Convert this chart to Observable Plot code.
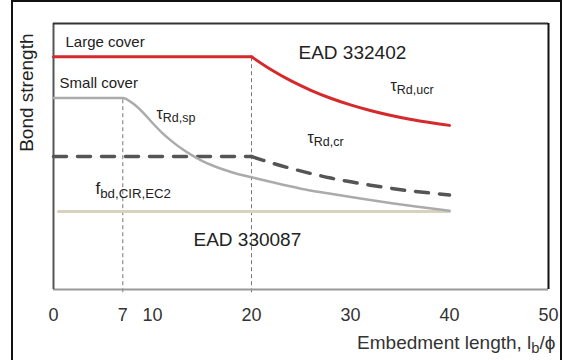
<!DOCTYPE html>
<html><head><meta charset="utf-8">
<script src="https://cdn.jsdelivr.net/npm/d3@7"></script>
<script src="https://cdn.jsdelivr.net/npm/@observablehq/plot@0.6"></script>
<style>
body{margin:0;background:#fff;}
#wrap{position:relative;width:565px;height:360px;overflow:hidden;font-family:"Liberation Sans",Arial,sans-serif;}
#border{position:absolute;left:11px;top:0;width:547px;height:400px;border:2px solid #111;pointer-events:none;}
</style></head><body><div id="wrap"></div>
<script>
// Data (x in lb/phi, y in arbitrary bond-strength units)
const largeFlatX = [0, 20];
const largeFlatY = [8.75, 8.75];
const largeX = [20, 22, 24, 26, 28, 30, 32, 34, 36, 38, 40];
const largeY = [8.75, 8.26, 7.84, 7.49, 7.19, 6.94, 6.73, 6.55, 6.40, 6.28, 6.17];
const smallX = [0, 7, 8, 9, 10, 11, 12, 13, 14, 15, 16, 17, 18, 20, 22, 25, 28, 31, 34, 37, 40];
const smallY = [7.2, 7.2, 7.0, 6.67, 6.26, 5.88, 5.56, 5.28, 5.04, 4.84, 4.67, 4.53, 4.41, 4.22, 4.04, 3.79, 3.6, 3.42, 3.25, 3.1, 2.96];
const crFlatX = [0, 20];
const crFlatY = [5.0, 5.0];
const crX = [20, 22, 24, 26, 28, 30, 32, 34, 36, 38, 40];
const crY = [5.0, 4.76, 4.55, 4.36, 4.19, 4.05, 3.92, 3.81, 3.71, 3.63, 3.55];
const ecX = [0.5, 40];
const ecY = [2.93, 2.93];
const markerX = [7, 20];
const markerTop = [7.2, 8.75];
const xTicks = [0, 7, 10, 20, 30, 40, 50];
const noteText = ["Large cover", "Small cover", "EAD 332402", "EAD 330087", "τ_{Rd,ucr}", "τ_{Rd,sp}", "τ_{Rd,cr}", "f_{bd,CIR,EC2}"];
const noteX = [1.21, 0.61, 24.75, 14.14, 34.04, 10.4, 25.66, 4.24];
const noteY = [9.29, 7.74, 8.91, 1.88, 7.67, 6.62, 5.71, 3.81];
const xLabel = "Embedment length, l_{b}/ϕ";
const yLabel = "Bond strength";

const pts = (X, Y) => X.map((x, i) => ({x, y: Y[i]}));

const dashStyle = {stroke: "#555", strokeWidth: 3.5, strokeDasharray: "13,11"};
const redStyle = {stroke: "#d42a2c", strokeWidth: 3};

const chart = Plot.plot({
  width: 565,
  height: 360,
  marginLeft: 53,
  marginRight: 17,
  marginTop: 23,
  marginBottom: 71,
  style: {fontFamily: "Liberation Sans, Arial, sans-serif", background: "white"},
  x: {domain: [0, 50], axis: null},
  y: {domain: [0, 10], axis: null},
  marks: [
    Plot.ruleX(markerX.map((x, i) => ({x, top: markerTop[i]})), {x: "x", y1: -0.12, y2: "top", stroke: "#777", strokeWidth: 1, strokeDasharray: "4,3"}),
    Plot.ruleY([0], {stroke: "#999", strokeWidth: 2}),
    Plot.ruleX([0], {stroke: "#555", strokeWidth: 2}),
    Plot.ruleY([10], {stroke: "#333", strokeWidth: 2}),
    Plot.ruleX([50], {stroke: "#111", strokeWidth: 2}),
    Plot.line(pts(ecX, ecY), {x: "x", y: "y", stroke: "#d9d1bd", strokeWidth: 3}),
    Plot.line(pts(crFlatX, crFlatY), {x: "x", y: "y", ...dashStyle}),
    Plot.line(pts(crX, crY), {x: "x", y: "y", ...dashStyle, curve: "catmull-rom"}),
    Plot.line(pts(smallX, smallY), {x: "x", y: "y", stroke: "#ababab", strokeWidth: 2.5, curve: "monotone-x"}),
    Plot.line(pts(largeFlatX, largeFlatY), {x: "x", y: "y", ...redStyle}),
    Plot.line(pts(largeX, largeY), {x: "x", y: "y", ...redStyle, curve: "catmull-rom"}),
    Plot.axisX(xTicks, {tickSize: 0, tickPadding: 19, fontSize: 18, fill: "#333", label: null}),
    Plot.text([0, 1], {x: i => noteX[i], y: i => noteY[i], text: i => noteText[i], textAnchor: "start", fontSize: 15, fill: "#222", letterSpacing: "-0.2px"}),
    Plot.text([2, 3], {x: i => noteX[i], y: i => noteY[i], text: i => noteText[i], textAnchor: "start", fontSize: 19, fill: "#222"}),
    Plot.text([4, 5, 6], {x: i => noteX[i], y: i => noteY[i], text: i => noteText[i], textAnchor: "start", fontSize: 16, fill: "#222"}),
    Plot.text([7], {x: i => noteX[i], y: i => noteY[i], text: i => noteText[i], textAnchor: "start", fontSize: 17, fill: "#222"}),
    Plot.text([xLabel], {frameAnchor: "bottom-right", dx: 7, dy: 59, textAnchor: "end", fontSize: 19, fill: "#333", letterSpacing: "0.3px"}),
    Plot.text([yLabel], {x: -2.73, y: 7.4, rotate: -90, textAnchor: "middle", fontSize: 19, fill: "#222"})
  ]
});

// Turn "_{...}" into subscript tspans (text stays real text)
d3.select(chart).selectAll("text").each(function () {
  const t = this.textContent;
  if (!t.includes("_{")) return;
  const parts = t.split(/(_\{[^}]*\})/).filter(p => p);
  this.textContent = "";
  let wasSub = false;
  for (const p of parts) {
    const ts = d3.select(this).append("tspan");
    if (p.startsWith("_{")) {
      ts.text(p.slice(2, -1)).attr("font-size", "0.78em").attr("dy", "0.3em");
      wasSub = true;
    } else {
      ts.text(p);
      if (wasSub) ts.attr("dy", "-0.234em");
      wasSub = false;
    }
  }
});

const wrap = document.getElementById("wrap");
wrap.appendChild(chart);
const border = document.createElement("div");
border.id = "border";
wrap.appendChild(border);
</script>
</body></html>
